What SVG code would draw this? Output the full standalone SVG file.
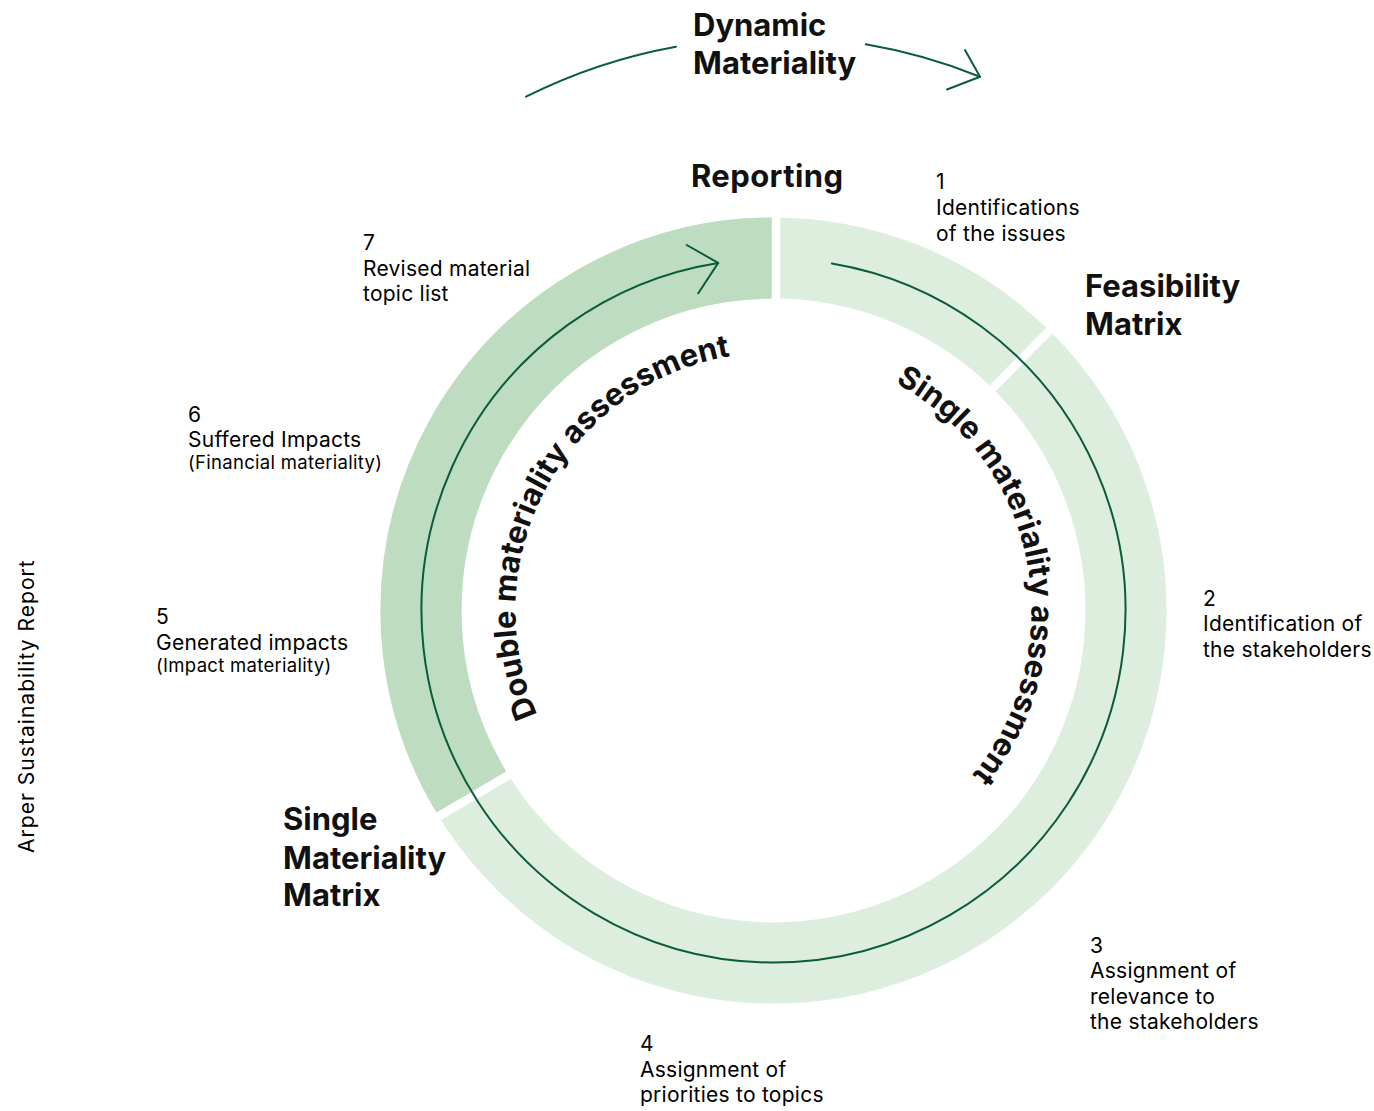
<svg xmlns="http://www.w3.org/2000/svg" width="1374" height="1111" viewBox="0 0 1374 1111">
<style>
.t{font-family:Inter,"Liberation Sans",Arial,sans-serif;fill:#000;font-size:21px;letter-spacing:0.25px}
.s{font-size:18.5px;letter-spacing:0.3px}
.b{font-family:Inter,"Liberation Sans",Arial,sans-serif;fill:#111;font-size:31px;font-weight:700}
.ln{fill:none;stroke:#0b5c3c;stroke-width:2;stroke-linecap:round;stroke-linejoin:round}
.gap{stroke:#fff;stroke-width:8.5}
</style>
<defs>
<path id="pDouble" d="M537.4,714.6 A258,258 0 0 1 796,353.5"/>
<path id="pSingle" d="M895.4,383.1 A258,258 0 0 1 939.3,808.1"/>
</defs>
<rect width="1374" height="1111" fill="#fff"/>
<g id="ring">
<circle cx="773.5" cy="610.5" r="352.5" fill="none" stroke="#ddedde" stroke-width="81"/>
<path d="M471.3,792 A352.5,352.5 0 0 1 773.5,258" fill="none" stroke="#bddcc0" stroke-width="81"/>
<line class="gap" x1="776" y1="205" x2="776" y2="312"/>
<line class="gap" x1="1062.3" y1="317.5" x2="978.1" y2="402.9"/>
<line class="gap" x1="527" y1="764.5" x2="412" y2="832"/>
</g>
<g id="connectors">
<path class="ln" d="M831.8,263.4 A352,352 0 1 1 718.2,262.9"/>
<polyline class="ln" points="686.7,245 718.2,262.9 698.3,293.3"/>
<path class="ln" d="M526,96.7 A553,553 0 0 1 676,46.7"/>
<path class="ln" d="M865.7,44.3 A553,553 0 0 1 980,76.7"/>
<polyline class="ln" points="965,50 980,76.7 947,89.5"/>
</g>
<g id="double-materiality-assessment">
<text class="b"><textPath href="#pDouble" textLength="469" lengthAdjust="spacing">Double materiality assessment</textPath></text>
</g>
<g id="single-materiality-assessment">
<text class="b"><textPath href="#pSingle" textLength="457" lengthAdjust="spacing">Single materiality assessment</textPath></text>
</g>
<g id="dynamic-materiality">
<text class="b" x="693" y="36">Dynamic</text>
<text class="b" x="693" y="74">Materiality</text>
</g>
<g id="reporting"><text class="b" x="691" y="187" textLength="152">Reporting</text></g>
<g id="feasibility-matrix">
<text class="b" x="1085" y="297">Feasibility</text>
<text class="b" x="1085" y="335">Matrix</text>
</g>
<g id="single-materiality-matrix">
<text class="b" x="283" y="830">Single</text>
<text class="b" x="283" y="869">Materiality</text>
<text class="b" x="283" y="906">Matrix</text>
</g>
<g id="step1">
<text class="t" x="936" y="189">1</text>
<text class="t" x="936" y="215">Identifications</text>
<text class="t" x="936" y="241">of the issues</text>
</g>
<g id="step2">
<text class="t" x="1203" y="606">2</text>
<text class="t" x="1203" y="631">Identification of</text>
<text class="t" x="1203" y="657">the stakeholders</text>
</g>
<g id="step3">
<text class="t" x="1090" y="953">3</text>
<text class="t" x="1090" y="978">Assignment of</text>
<text class="t" x="1090" y="1004">relevance to</text>
<text class="t" x="1090" y="1029">the stakeholders</text>
</g>
<g id="step4">
<text class="t" x="640" y="1051">4</text>
<text class="t" x="640" y="1077">Assignment of</text>
<text class="t" x="640" y="1102">priorities to topics</text>
</g>
<g id="step5">
<text class="t" x="156" y="624">5</text>
<text class="t" x="156" y="650">Generated impacts</text>
<text class="t s" x="156" y="672">(Impact materiality)</text>
</g>
<g id="step6">
<text class="t" x="188" y="422">6</text>
<text class="t" x="188" y="447">Suffered Impacts</text>
<text class="t s" x="188" y="469">(Financial materiality)</text>
</g>
<g id="step7">
<text class="t" x="363" y="250">7</text>
<text class="t" x="363" y="276">Revised material</text>
<text class="t" x="363" y="301">topic list</text>
</g>
<g id="footer">
<text class="t" transform="translate(34,853) rotate(-90)" textLength="293" lengthAdjust="spacing">Arper Sustainability Report</text>
</g>
</svg>
